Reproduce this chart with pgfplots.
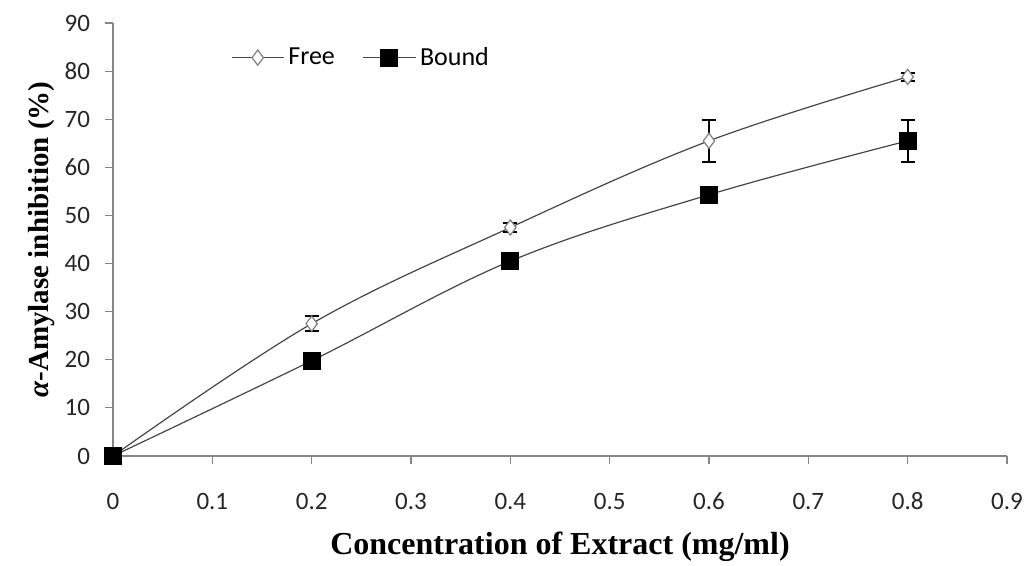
\documentclass[border=0pt]{standalone}
\usepackage{fontspec}
\setmainfont{Carlito}
\newfontfamily\tnr{Liberation Serif}
\usepackage{pgfplots}
\pgfplotsset{compat=1.18}
\definecolor{axgray}{RGB}{134,134,134}
\definecolor{lngray}{RGB}{70,70,70}
\begin{document}
\begin{tikzpicture}
\path[use as bounding box] (0,0) rectangle (513pt,283pt);
\begin{axis}[
  at={(56.5pt,55pt)}, anchor=origin,
  scale only axis, width=447pt, height=216.5pt,
  xmin=0, xmax=0.9, ymin=0, ymax=90,
  xtick={0,0.1,...,0.9}, ytick={0,10,...,90},
  axis x line*=bottom, axis y line*=left,
  axis line style={axgray, line width=0.6pt, -},
  tick style={axgray, line width=0.6pt},
  tick align=outside, major tick length=4pt,
  /pgf/number format/assume math mode=true,
  /pgf/number format/fixed,
  ticklabel style={font=\fontsize{12.5}{14}\selectfont, text=black!85},
  xticklabel style={anchor=base, yshift=-23pt},
  yticklabel style={xshift=-4pt},
  xlabel={\tnr\bfseries\fontsize{16}{18}\selectfont Concentration of Extract (mg/ml)},
  ylabel={\tnr\bfseries\fontsize{14.5}{16}\selectfont {\itshape α}-Amylase inhibition (\%)},
  xlabel style={at={(0.5,0)}, anchor=center, yshift=-45.5pt},
  ylabel style={yshift=-2pt},
  clip=false,
  legend style={draw=none, fill=none, at={(0.125,0.92)}, anchor=west,
    font=\fontsize{13}{15}\selectfont, legend columns=2,
    /tikz/every even column/.append style={column sep=12pt}},
  legend cell align=left,
  legend image code/.code={\draw[mark repeat=2,mark phase=2] plot coordinates {(0pt,0pt) (13pt,0pt) (26pt,0pt)};},
]
\addplot[lngray, line width=0.6pt, smooth, tension=0.6,
  mark=diamond*, mark size=3.8pt, mark options={fill=white, draw=gray, line width=0.6pt},
  error bars/.cd, y dir=both, y explicit,
  error bar style={black, line width=1pt}, error mark options={black, line width=1pt, mark size=3.5pt, rotate=90}]
  coordinates {(0,0) +- (0,0) (0.2,27.5) +- (0,1.6) (0.4,47.5) +- (0,0.9) (0.6,65.5) +- (0,4.4) (0.8,78.8) +- (0,0.8)};
\addlegendentry{Free}
\addplot[lngray, line width=0.6pt, smooth, tension=0.6,
  mark=square*, mark size=4.2pt, mark options={fill=black, draw=black},
  error bars/.cd, y dir=both, y explicit,
  error bar style={black, line width=1pt}, error mark options={black, line width=1pt, mark size=3.5pt, rotate=90}]
  coordinates {(0,0) +- (0,0) (0.2,19.8) +- (0,0) (0.4,40.5) +- (0,0) (0.6,54.3) +- (0,0) (0.8,65.5) +- (0,4.3)};
\addlegendentry{Bound}
\end{axis}
\end{tikzpicture}
\end{document}
